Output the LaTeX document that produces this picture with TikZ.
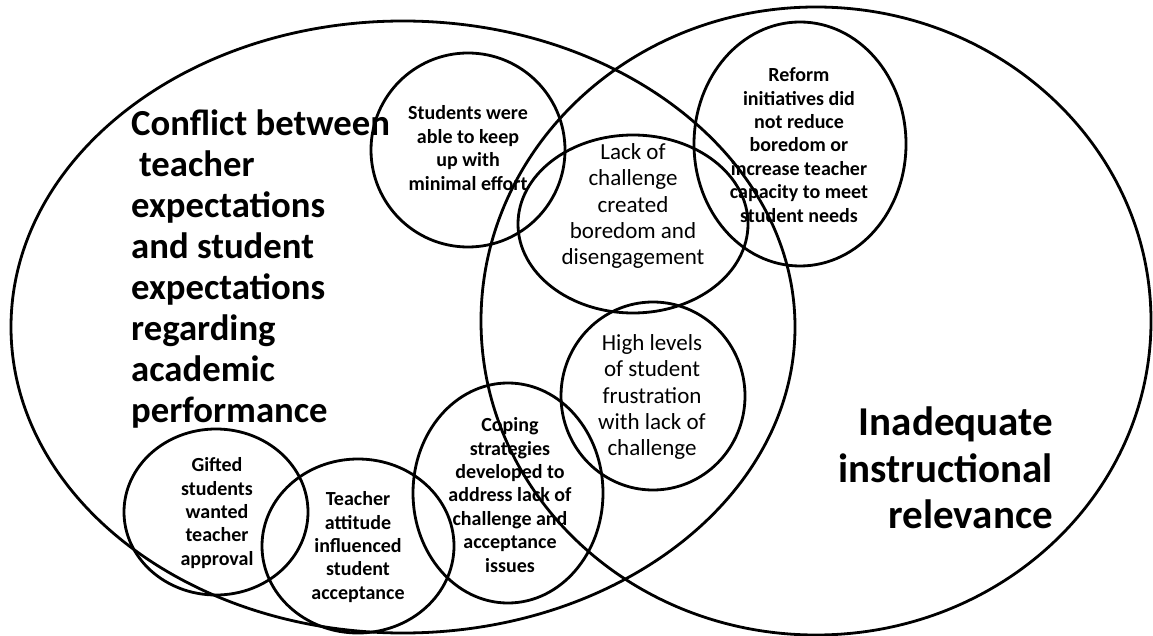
\documentclass[tikz,border=0pt]{standalone}
\usepackage{fontspec}
\setmainfont{Carlito}
\begin{document}
\begin{tikzpicture}[x=1pt,y=-1pt,
  ring/.style={line width=2.8pt, draw=black},
  bigleft/.style={font=\bfseries\fontsize{36.7}{41}\selectfont, inner sep=0pt, align=left, anchor=west},
  bigright/.style={font=\bfseries\fontsize{41}{46.5}\selectfont, inner sep=0pt, align=right, anchor=east},
  boldlabel/.style={font=\bfseries\fontsize{20}{23.4}\selectfont, inner sep=0pt, align=center},
  plainlabel/.style={font=\fontsize{23}{26.4}\selectfont, inner sep=0pt, align=center}]
\useasboundingbox (0,0) rectangle (1153,636);
\fill[white] (0,0) rectangle (1153,636);

% the two main themes
\draw[ring] (403,327) ellipse [x radius=392, y radius=306];
\draw[ring] (816,321) ellipse [x radius=335, y radius=314];

% sub-themes
\draw[ring] (468,150) ellipse [x radius=97, y radius=97];
\draw[ring] (633,224) ellipse [x radius=115, y radius=89];
\draw[ring] (800,144) ellipse [x radius=106, y radius=122];
\draw[ring] (653,396) ellipse [x radius=92, y radius=94];
\draw[ring] (508,493) ellipse [x radius=95, y radius=110];
\draw[ring] (216,512) ellipse [x radius=92, y radius=83];
\draw[ring] (358,546) ellipse [x radius=96, y radius=87];

% theme titles
\node[bigleft] (conflict) at (131,269) {Conflict between\\\hspace*{8pt}teacher\\expectations\\and student\\expectations\\regarding\\academic\\performance};
\node[bigright] (relevance) at (1053,468) {Inadequate\\instructional\\relevance};

% sub-theme labels
\node[boldlabel] (keepup) at (468,148) {Students were\\able to keep\\up with\\minimal effort};
\node[plainlabel] (lack) at (633,206) {Lack of\\challenge\\created\\boredom and\\disengagement};
\node[boldlabel] (reform) at (799,145) {Reform\\initiatives did\\not reduce\\boredom or\\increase teacher\\capacity to meet\\student needs};
\node[plainlabel] (frustration) at (652,397) {High levels\\of student\\frustration\\with lack of\\challenge};
\node[boldlabel] (coping) at (510,495) {Coping\\strategies\\developed to\\address lack of\\challenge and\\acceptance\\issues};
\node[boldlabel] (gifted) at (217,513) {Gifted\\students\\wanted\\teacher\\approval};
\node[boldlabel] (attitude) at (358,547) {Teacher\\attitude\\influenced\\student\\acceptance};
\end{tikzpicture}
\end{document}
